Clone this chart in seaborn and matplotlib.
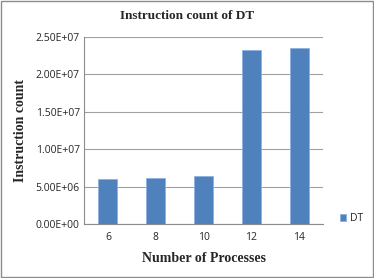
import matplotlib
matplotlib.use("Agg")
import matplotlib.pyplot as plt
import seaborn as sns
import pandas as pd
from matplotlib.patches import Rectangle

categories = ["6", "8", "10", "12", "14"]
values = [6.0e6, 6.15e6, 6.37e6, 2.32e7, 2.355e7]
yticks = [0, 5e6, 1e7, 1.5e7, 2e7, 2.5e7]
ytick_labels = ["0.00E+00", "5.00E+06", "1.00E+07", "1.50E+07", "2.00E+07", "2.50E+07"]

df = pd.DataFrame({"proc": categories, "count": values, "series": "DT"})

sns.set_style("white")
fig = plt.figure(figsize=(3.74, 2.78), dpi=100)
ax = fig.add_axes([84/374, 1-224/278, (323-84)/374, (224-37)/278])

sns.barplot(data=df, x="proc", y="count", hue="series", palette=["#4F81BD"],
            saturation=1, width=0.4, ax=ax, edgecolor="#8DB0DC", linewidth=0.6, legend=True)

ax.set_ylim(0, 2.5e7)
ax.set_yticks(yticks)
ax.set_yticklabels(ytick_labels, fontsize=7.5, family="Open Sans")
ax.set_xticks(range(len(categories)))
ax.set_xticklabels(categories, fontsize=7.5, family="Open Sans")
ax.tick_params(axis="y", length=0, pad=3)
ax.tick_params(axis="x", length=0, pad=6)
ax.grid(axis="y", color="#A0A0A0", linewidth=0.8)
ax.set_axisbelow(True)
for s in ["top", "right"]:
    ax.spines[s].set_visible(False)
ax.spines["left"].set_color("#8C8C8C")
ax.spines["bottom"].set_color("#8C8C8C")
ax.spines["left"].set_linewidth(0.8)
ax.spines["bottom"].set_linewidth(0.8)

ax.set_xlabel("Number of Processes", fontsize=10, fontweight="bold", family="Liberation Serif", labelpad=6)
ax.set_ylabel("Instruction count", fontsize=10, fontweight="bold", family="Liberation Serif", labelpad=6)
fig.text(0.5, 1-16/278, "Instruction count of DT", ha="center", va="center",
         fontsize=9.5, fontweight="bold", family="Liberation Serif")

leg = ax.legend(loc="center left", bbox_to_anchor=(1.03, 0.03), frameon=False,
                prop={"family": "Open Sans", "size": 7.5}, handlelength=0.6,
                handleheight=0.6, handletextpad=0.4)

fig.patches.append(Rectangle((0.003, 0.004), 0.994, 0.992, transform=fig.transFigure,
                             fill=False, edgecolor="#8C8C8C", linewidth=1.0))
fig.savefig("out.png", dpi=100)
